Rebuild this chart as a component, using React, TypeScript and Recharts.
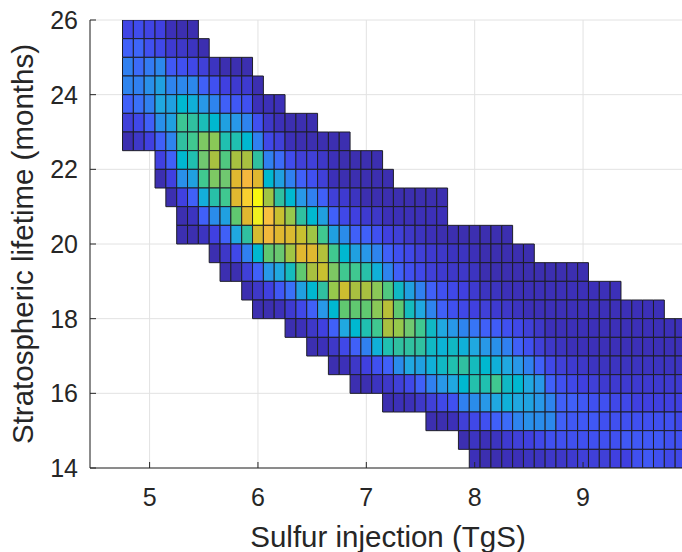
import React from 'react';
import { ComposedChart, XAxis, YAxis, CartesianGrid, ReferenceArea, Scatter, Label } from 'recharts';

// Bin centres of the 2-D histogram
const xBins = [
  4.8, 4.9, 5.0, 5.1, 5.2, 5.3, 5.4, 5.5, 5.6, 5.7, 5.8, 5.9, 6.0, 6.1, 6.2, 6.3, 6.4, 6.5, 6.6, 6.7,
  6.8, 6.9, 7.0, 7.1, 7.2, 7.3, 7.4, 7.5, 7.6, 7.7, 7.8, 7.9, 8.0, 8.1, 8.2, 8.3, 8.4, 8.5, 8.6, 8.7,
  8.8, 8.9, 9.0, 9.1, 9.2, 9.3, 9.4, 9.5, 9.6, 9.7, 9.8, 9.9,
];
const yBins = [
  25.75, 25.25, 24.75, 24.25, 23.75, 23.25, 22.75, 22.25, 21.75, 21.25, 20.75, 20.25,
  19.75, 19.25, 18.75, 18.25, 17.75, 17.25, 16.75, 16.25, 15.75, 15.25, 14.75, 14.25,
];
// index into xBins of the first non-empty bin of each row
const rowStart = [0, 0, 0, 0, 0, 0, 0, 3, 3, 4, 5, 5, 8, 9, 11, 12, 15, 17, 19, 21, 24, 28, 31, 32];
// relative counts (0-100) per row, from the first non-empty bin onward
const counts = [
  [9, 11, 9, 8, 3, 2, 2],
  [15, 16, 12, 10, 6, 5, 4, 2],
  [21, 17, 20, 23, 13, 12, 10, 7, 4, 2, 2, 2],
  [22, 21, 25, 30, 22, 23, 23, 15, 12, 8, 6, 6, 2],
  [15, 18, 21, 33, 30, 40, 37, 27, 22, 15, 13, 12, 3, 3, 3],
  [7, 10, 15, 25, 30, 53, 50, 45, 40, 30, 27, 22, 12, 5, 3, 2, 2, 2],
  [2, 5, 8, 15, 22, 50, 54, 64, 66, 46, 46, 40, 21, 10, 7, 3, 2, 2, 2, 2, 2],
  [8, 15, 40, 46, 62, 72, 57, 72, 72, 50, 21, 17, 11, 7, 7, 5, 3, 2, 2, 2, 2],
  [2, 8, 25, 30, 54, 64, 62, 82, 88, 82, 40, 30, 21, 15, 12, 7, 3, 2, 2, 2, 2, 2],
  [2, 8, 15, 36, 48, 54, 82, 93, 100, 70, 50, 40, 27, 21, 15, 7, 6, 4, 2, 2, 2, 2, 2, 2, 2, 2],
  [2, 4, 15, 24, 30, 60, 82, 98, 90, 77, 68, 50, 40, 30, 15, 10, 8, 6, 5, 3, 3, 3, 3, 3, 3],
  [2, 2, 4, 8, 15, 33, 50, 80, 87, 82, 81, 77, 70, 54, 30, 24, 15, 15, 12, 8, 7, 5, 4, 3, 2, 2, 2, 2, 2, 2, 2],
  [2, 5, 10, 21, 40, 60, 61, 70, 82, 82, 74, 54, 40, 30, 27, 22, 15, 12, 10, 7, 6, 5, 4, 4, 3, 2, 2, 2, 2, 2],
  [2, 2, 7, 15, 27, 33, 44, 60, 72, 77, 64, 54, 54, 48, 37, 22, 15, 12, 10, 7, 6, 5, 5, 4, 2, 2, 2, 2, 2, 2, 2, 2, 2, 2],
  [2, 5, 8, 13, 18, 30, 40, 50, 68, 78, 72, 72, 66, 57, 43, 30, 21, 15, 12, 10, 8, 6, 4, 4, 3, 3, 3, 3, 3, 3, 3, 3, 3, 3, 3],
  [2, 2, 3, 6, 10, 15, 27, 40, 60, 60, 60, 66, 75, 60, 44, 33, 22, 15, 12, 10, 8, 7, 6, 5, 4, 3, 3, 3, 3, 3, 3, 3, 3, 3, 3, 3, 3, 3],
  [2, 3, 5, 8, 15, 33, 40, 46, 54, 72, 68, 62, 54, 43, 33, 27, 22, 19, 15, 14, 12, 10, 7, 5, 3, 3, 3, 3, 3, 3, 3, 3, 3, 3, 3, 3, 3],
  [2, 3, 5, 10, 15, 21, 37, 46, 50, 50, 50, 43, 38, 43, 37, 33, 27, 25, 21, 15, 12, 7, 5, 4, 3, 3, 3, 3, 3, 3, 3, 3, 3, 3, 3],
  [2, 3, 5, 8, 12, 15, 24, 33, 30, 37, 43, 46, 50, 44, 40, 37, 33, 27, 21, 15, 10, 7, 6, 5, 4, 4, 4, 4, 4, 4, 4, 4, 4],
  [2, 2, 4, 5, 7, 10, 15, 21, 27, 33, 40, 47, 46, 54, 43, 40, 33, 27, 15, 12, 10, 8, 7, 6, 6, 6, 6, 6, 6, 6, 6],
  [2, 3, 3, 5, 7, 10, 12, 21, 24, 27, 33, 37, 33, 31, 27, 22, 15, 15, 13, 12, 12, 10, 10, 8, 8, 8, 8, 8],
  [2, 2, 3, 7, 10, 12, 15, 17, 22, 25, 24, 23, 15, 13, 13, 13, 12, 12, 12, 12, 12, 12, 12, 10],
  [2, 4, 3, 4, 6, 7, 8, 10, 12, 12, 12, 12, 12, 12, 12, 13, 13, 13, 13, 12, 12],
  [3, 2, 2, 3, 3, 4, 4, 5, 5, 6, 7, 7, 7, 8, 8, 12, 13, 12, 10, 10],
];
const xTicks = [5, 6, 7, 8, 9];
const yTicks = [14, 16, 18, 20, 22, 24, 26];
const xDomain = [4.45, 9.95];
const yDomain = [14, 26];
const X_HALF = 0.05;
const Y_HALF = 0.25;

// parula-like colormap (style)
const cmap: [number, string][] = [
  [0, '#3e26a8'], [2, '#3c2fb0'], [3, '#3c30b8'], [4, '#3c34c0'], [5, '#3e38c8'], [6, '#3e3ad0'],
  [7, '#4040d8'], [8, '#4040e0'], [10, '#4048e8'], [12, '#4050f0'], [13, '#4058f5'], [15, '#4060f8'],
  [18, '#3a70f8'], [21, '#3080f0'], [24, '#2a8cea'], [27, '#2898e8'], [30, '#20a0e0'], [33, '#20a8e0'],
  [37, '#10b0d8'], [40, '#00b8d0'], [43, '#10b8c4'], [46, '#20c0b0'], [50, '#30c0a0'], [54, '#40c890'],
  [57, '#50c880'], [60, '#60c870'], [62, '#70c870'], [65, '#84c85c'], [69, '#9cc846'], [72, '#a8c040'],
  [75, '#b8c038'], [77, '#c8c030'], [82, '#e0b830'], [88, '#f6b83e'], [90, '#f8c040'], [93, '#f8d030'],
  [98, '#f0f020'], [100, '#f8f810'],
];
const hex = (h: string) => [1, 3, 5].map((i) => parseInt(h.slice(i, i + 2), 16));
function colorFor(v: number): string {
  for (let i = 1; i < cmap.length; i++) {
    if (v <= cmap[i][0]) {
      const [v0, c0] = cmap[i - 1];
      const [v1, c1] = cmap[i];
      const t = (v - v0) / (v1 - v0);
      const a = hex(c0), b = hex(c1);
      const c = a.map((x, k) => Math.round(x + (b[k] - x) * t));
      return `rgb(${c[0]},${c[1]},${c[2]})`;
    }
  }
  return cmap[cmap.length - 1][1];
}

type Cell = { x: number; y: number; v: number };
const cells: Cell[] = [];
yBins.forEach((yc, r) => {
  counts[r].forEach((v, i) => {
    cells.push({ x: xBins[rowStart[r] + i], y: yc, v });
  });
});

const FONT = 'Liberation Sans, Arial, Helvetica, sans-serif';
const INK = '#262626';

const BottomTick = (p: any) => (
  <g>
    <line x1={p.x} y1={p.y} x2={p.x} y2={p.y - 6} stroke={INK} strokeWidth={1} />
    <text x={p.x} y={p.y + 38} textAnchor="middle" fontSize={25} fill={INK} fontFamily={FONT}>
      {p.payload.value}
    </text>
  </g>
);
const TopTick = (p: any) => (
  <line x1={p.x} y1={p.y} x2={p.x} y2={p.y + 6} stroke={INK} strokeWidth={1} />
);
const LeftTick = (p: any) => (
  <g>
    <line x1={p.x} y1={p.y} x2={p.x + 6} y2={p.y} stroke={INK} strokeWidth={1} />
    <text x={p.x - 12} y={p.y + 9} textAnchor="end" fontSize={25} fill={INK} fontFamily={FONT}>
      {p.payload.value}
    </text>
  </g>
);
const RightTick = (p: any) => (
  <line x1={p.x} y1={p.y} x2={p.x - 6} y2={p.y} stroke={INK} strokeWidth={1} />
);

const XTitle = (p: any) => {
  const vb = p.viewBox;
  return (
    <text x={vb.x + vb.width / 2} y={vb.y + 79} textAnchor="middle" fontSize={29.5} fill={INK} fontFamily={FONT}>
      Sulfur injection (TgS)
    </text>
  );
};
const YTitle = (p: any) => {
  const vb = p.viewBox;
  const cx = vb.x + 33;
  const cy = vb.y + vb.height / 2;
  return (
    <text x={cx} y={cy} transform={`rotate(-90 ${cx} ${cy})`} textAnchor="middle" fontSize={29.5} fill={INK} fontFamily={FONT}>
      Stratospheric lifetime (months)
    </text>
  );
};

export default function App() {
  return (
    <div style={{ position: 'absolute', left: 0, top: 0, width: 682, height: 552, overflow: 'hidden', background: '#fff' }}>
      <ComposedChart width={688} height={552} margin={{ top: 20, right: 2, bottom: 0, left: 0 }} data={cells}>
        <CartesianGrid stroke="#e2e2e2" strokeWidth={1} />
        <XAxis xAxisId={0} type="number" dataKey="x" domain={xDomain} ticks={xTicks} allowDataOverflow
          height={84} tickSize={0} tickMargin={0} tick={BottomTick} axisLine={{ stroke: INK }} tickLine={false}>
          <Label content={XTitle} />
        </XAxis>
        <XAxis xAxisId="top" orientation="top" type="number" dataKey="x" domain={xDomain} ticks={xTicks} allowDataOverflow
          height={0} tickSize={0} tickMargin={0} tick={TopTick} axisLine={{ stroke: INK }} tickLine={false} />
        <YAxis yAxisId={0} type="number" dataKey="y" domain={yDomain} ticks={yTicks} allowDataOverflow
          width={90} tickSize={0} tickMargin={0} tick={LeftTick} axisLine={{ stroke: INK }} tickLine={false}>
          <Label content={YTitle} />
        </YAxis>
        <YAxis yAxisId="right" orientation="right" type="number" dataKey="y" domain={yDomain} ticks={yTicks} allowDataOverflow
          width={0} tickSize={0} tickMargin={0} tick={RightTick} axisLine={{ stroke: INK }} tickLine={false} />
        <Scatter xAxisId={0} yAxisId={0} dataKey="y" isAnimationActive={false} shape={() => <g />} />
        {cells.map((c, i) => (
          <ReferenceArea
            key={i}
            xAxisId={0}
            yAxisId={0}
            x1={c.x - X_HALF}
            x2={c.x + X_HALF}
            y1={c.y - Y_HALF}
            y2={c.y + Y_HALF}
            fill={colorFor(c.v)}
            fillOpacity={1}
            stroke="#1e1e28"
            strokeWidth={1}
            ifOverflow="hidden"
          />
        ))}
      </ComposedChart>
    </div>
  );
}
